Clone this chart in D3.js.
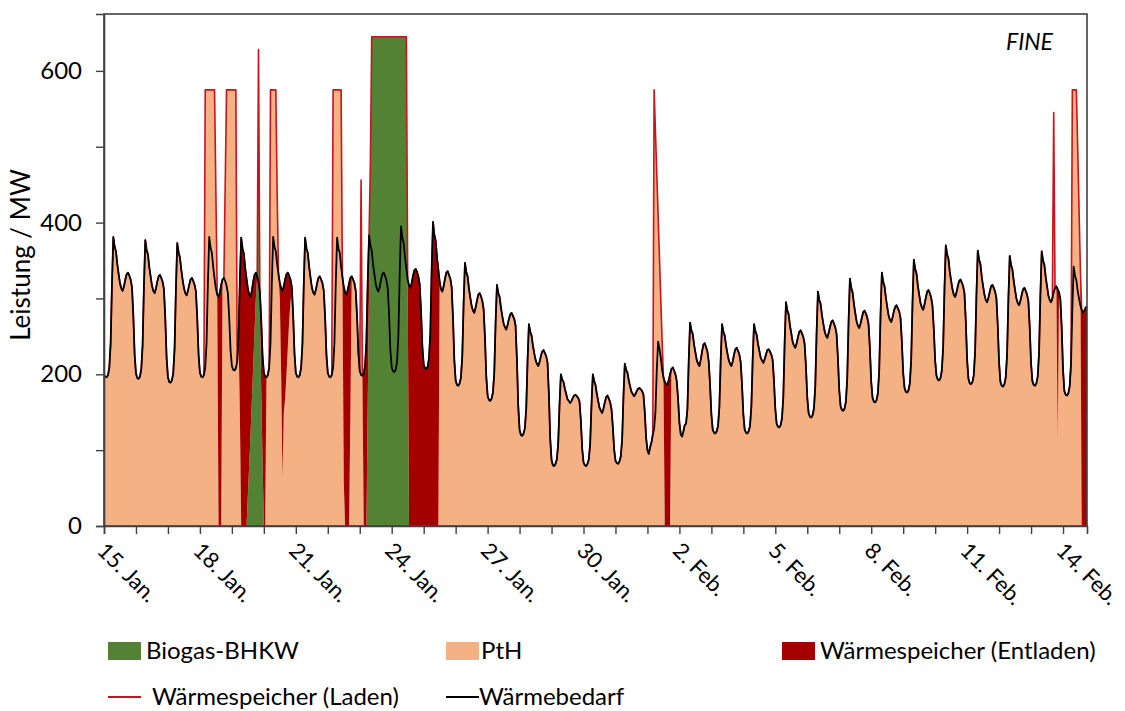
<!DOCTYPE html>
<html>
<head>
<meta charset="utf-8">
<script src="https://cdn.jsdelivr.net/npm/d3@7"></script>
<style>
  html, body { margin: 0; padding: 0; background: #ffffff; }
  svg { display: block; font-family: Lato, "Open Sans", sans-serif; }
</style>
</head>
<body>
<svg id="chart" width="1125" height="711"></svg>
<script>
// Wärmebedarf, stündlich ab 15. Jan. 00:00 (MW), eine Zeile pro Tag
const demand = [
  198,197,196,199,209,241,320,381,368,362,345,332,320,313,310,316,325,332,334,330,325,315,278,226,
  201,195,194,197,207,239,317,377,364,358,341,329,317,310,307,313,322,329,331,327,322,312,274,222,
  196,190,189,192,202,234,313,373,361,354,338,325,314,307,304,310,318,325,327,323,318,309,274,226,
  202,197,196,199,209,241,320,381,367,360,341,326,313,305,302,308,318,325,327,323,317,307,275,232,
  211,206,205,208,217,248,323,380,366,359,340,326,313,305,302,310,322,331,334,329,322,309,273,225,
  202,197,196,199,209,241,320,381,368,362,345,332,320,313,310,316,325,332,334,330,325,315,278,228,
  202,197,196,199,209,241,320,380,366,360,342,328,315,308,305,311,320,327,329,325,320,310,275,226,
  202,197,196,199,209,241,320,380,366,360,342,328,315,308,305,311,320,327,329,325,320,310,275,228,
  204,199,198,201,211,243,322,383,370,363,345,332,319,312,309,315,325,332,334,330,324,314,280,232,
  209,204,203,206,216,250,332,395,380,373,354,339,325,317,314,320,330,337,339,335,329,319,284,237,
  213,208,207,210,221,254,337,401,384,376,354,338,322,312,309,316,326,334,336,331,326,315,275,219,
  192,186,185,188,196,225,294,347,335,329,313,301,290,284,281,288,297,305,307,303,297,286,249,197,
  172,166,165,168,176,202,268,318,307,302,288,277,267,262,259,265,273,279,281,277,273,264,220,158,
  127,120,119,122,129,155,218,266,256,251,238,228,219,214,211,216,224,230,232,228,224,215,174,115,
   87, 80, 79, 82, 88,109,160,200,193,190,181,174,167,165,162,165,169,172,173,171,169,164,139,102,
   84, 80, 79, 82, 88,109,160,200,191,186,174,165,156,152,149,155,163,170,172,168,163,154,131,101,
   86, 83, 82, 85, 92,114,171,214,206,202,192,184,177,174,171,174,178,181,182,180,178,173,150,116,
  100, 95,104,110,120,128,150,205,243,234,222,206,196,190,187,186,192,200,207,209,205,200,191,167,
  136,121,118,125,133,135,154,218,268,258,253,239,229,219,214,211,219,230,239,241,236,230,217,186,
  147,127,123,122,125,132,157,219,266,256,251,238,228,219,214,211,217,226,233,235,231,226,216,186,
  147,127,123,122,125,132,157,219,266,257,252,240,231,222,218,215,220,226,232,233,230,226,219,191,
  154,135,131,130,133,142,170,241,295,284,279,264,254,243,238,235,241,249,256,258,254,249,240,210,
  169,149,144,143,146,155,184,255,309,298,293,278,267,257,251,248,254,262,269,271,267,262,253,221,
  179,158,153,152,155,164,195,269,326,314,308,293,281,270,264,261,267,275,282,284,280,275,266,234,
  190,169,164,163,166,175,205,278,334,322,316,301,289,278,272,269,275,283,289,291,287,283,274,243,
  202,182,177,176,179,188,219,294,351,339,333,317,305,294,288,285,292,301,309,311,307,301,290,259,
  218,198,193,192,195,205,235,312,370,358,352,335,323,312,305,302,308,316,323,325,321,316,307,270,
  219,194,188,187,190,199,230,305,363,351,345,328,316,305,298,295,301,309,316,318,314,309,300,264,
  215,190,185,184,187,196,226,300,356,344,338,323,311,300,294,291,297,305,312,314,310,305,296,262,
  214,191,186,185,188,197,228,304,362,350,344,328,316,304,298,295,300,308,314,316,312,308,299,261,
  206,178,173,172,175,184,214,286,342,330,324,310,300,291,285,281,284,288,289
];

// Biogas-BHKW: [Stunde, MW], übrige Stunden 0
const biogas = [
  [108,40],[109,80],[110,120],[111,165],[112,210],[113,255],[114,300],[115,329],[116,628],
  [117,300],[118,180],[119,90],
  [198,160],[199,320],[200,480],
  [201,645],[202,645],[203,645],[204,645],[205,645],[206,645],[207,645],[208,645],[209,645],
  [210,645],[211,645],[212,645],[213,645],[214,645],[215,645],[216,645],[217,645],[218,645],
  [219,645],[220,645],[221,645],[222,645],[223,645],[224,645],[225,645],[226,645],[227,645],
  [228,320]
];

// Wärmespeicher Entladen: [Stunde, MW]
const discharge = [
  [86,302],[87,308],[88,318],
  [102,173],[103,380],[104,366],[105,359],[106,340],[107,326],[108,273],[109,225],[110,182],
  [111,145],[112,112],[113,76],[114,34],
  [117,9],[118,93],[119,135],[120,202],[121,197],
  [132,20],[133,113],[134,248],[135,166],[136,157],[137,132],[138,99],[139,60],[140,30],[141,5],
  [180,255],[181,308],[182,305],[183,311],[184,320],[185,177],
  [195,201],[196,211],[197,243],[198,162],[199,63],
  [228,5],[229,317],[230,314],[231,320],[232,330],[233,337],[234,339],[235,335],[236,329],
  [237,319],[238,284],[239,237],[240,213],[241,208],[242,207],[243,210],[244,221],[245,254],
  [246,337],[247,401],[248,384],[249,376],[250,354],[251,338],
  [421,190],[422,187],[423,186],[424,192],[425,200],
  [716,199],
  [734,285],[735,281],[736,284],[737,288],[738,289]
];

// Wärmespeicher Laden: [Stunde, MW]
const charge = [
  [76,366],[77,334],[78,255],[79,194],[80,208],[81,215],[82,234],[83,249],[84,127],
  [91,127],[92,258],[93,268],[94,300],[95,343],[96,364],[97,369],[98,370],[99,367],
  [116,306],
  [125,334],[126,255],[127,194],[128,207],[129,213],[130,95],
  [172,366],[173,334],[174,255],[175,195],[176,209],[177,215],[178,233],
  [193,257],
  [200,110],[201,282],[202,300],[203,313],[204,326],[205,333],[206,336],[207,330],[208,320],
  [209,313],[210,311],[211,315],[212,321],[213,331],[214,365],[215,413],[216,436],[217,441],
  [218,442],[219,439],[220,429],[221,395],[222,313],[223,250],[224,265],[225,272],[226,291],
  [227,306],
  [413,447],[414,370],[415,260],[416,167],[417,121],[418,78],[419,39],
  [713,237],
  [727,289],[728,233],[729,245],[730,251],[731,190],[732,120],[733,49]
];

// Achsenbeschriftung
const dayLabels = ["15. Jan.","18. Jan.","21. Jan.","24. Jan.","27. Jan.","30. Jan.",
                   "2. Feb.","5. Feb.","8. Feb.","11. Feb.","14. Feb."];
const labelStepDays = 3;
const yTickValues = [0,100,200,300,400,500,600];
const yLabelValues = [0,200,400,600];

const colors = {
  bhkw: "#548235",
  pth: "#F4B183",
  ent: "#A50000",
  laden: "#C8141E",
  bedarf: "#000000",
  axis: "#404040"
};

const svg = d3.select("#chart");
const margin = { left: 104, right: 1087, top: 14, bottom: 526 };

const nHours = demand.length - 1;
const x = d3.scaleLinear().domain([0, nHours]).range([margin.left, margin.right]);
const y = d3.scaleLinear().domain([0, 675]).range([margin.bottom, margin.top]);

// Stündliche Tabelle aus den Einzelreihen
const bMap = new Map(biogas), dMap = new Map(discharge), cMap = new Map(charge);
const rows = demand.map((v, h) => {
  const b = bMap.get(h) || 0, e = dMap.get(h) || 0, c = cMap.get(h) || 0;
  return { h, demand: v, bhkw: b, ent: e, laden: v + c, pth: Math.max(0, v + c - b - e) };
});

const series = d3.stack().keys(["bhkw", "pth", "ent"])(rows);
const area = d3.area()
  .x(d => x(d.data.h))
  .y0(d => y(d[0]))
  .y1(d => y(d[1]));

const plot = svg.append("g");
plot.selectAll("path.layer")
  .data(series)
  .join("path")
  .attr("class", "layer")
  .attr("fill", s => colors[s.key])
  .attr("d", area);

plot.append("path")
  .datum(rows)
  .attr("fill", "none")
  .attr("stroke", colors.laden)
  .attr("stroke-width", 1.6)
  .attr("stroke-linejoin", "round")
  .attr("d", d3.line().x(d => x(d.h)).y(d => y(d.laden)));

plot.append("path")
  .datum(rows)
  .attr("fill", "none")
  .attr("stroke", colors.bedarf)
  .attr("stroke-width", 1.8)
  .attr("stroke-linejoin", "round")
  .attr("d", d3.line().x(d => x(d.h)).y(d => y(d.demand)));

// Rahmen
svg.append("rect")
  .attr("x", margin.left).attr("y", margin.top)
  .attr("width", margin.right - margin.left)
  .attr("height", margin.bottom - margin.top)
  .attr("fill", "none")
  .attr("stroke", colors.axis)
  .attr("stroke-width", 1.6);

// y-Achse
const yAxis = d3.axisLeft(y)
  .tickValues(yTickValues)
  .tickSize(8)
  .tickPadding(14)
  .tickFormat(v => yLabelValues.includes(v) ? String(v) : "");
const gy = svg.append("g").attr("transform", `translate(${margin.left},0)`).call(yAxis);
gy.select(".domain").attr("stroke", colors.axis).attr("stroke-width", 1.6);
gy.selectAll(".tick line").attr("stroke", colors.axis).attr("stroke-width", 1.4);
gy.selectAll(".tick text").attr("font-size", 24).attr("fill", "#000")
  .attr("font-family", "Lato, 'Open Sans', sans-serif");

// x-Achse: Tagesstriche
const dayTicks = d3.range(0, nHours + 1, 24);
const xAxis = d3.axisBottom(x)
  .tickValues(dayTicks)
  .tickSize(8)
  .tickFormat(() => "");
const gx = svg.append("g").attr("transform", `translate(0,${margin.bottom})`).call(xAxis);
gx.select(".domain").attr("stroke", colors.axis).attr("stroke-width", 1.6);
gx.selectAll(".tick line").attr("stroke", colors.axis).attr("stroke-width", 1.4);

// Datumsbeschriftung, um 45° gedreht
svg.append("g")
  .selectAll("text")
  .data(dayLabels)
  .join("text")
  .attr("transform", (d, i) => `translate(${x(i * labelStepDays * 24) - 8},${margin.bottom + 26}) rotate(45)`)
  .attr("font-size", 22)
  .attr("fill", "#000")
  .text(d => d);

// y-Achsentitel
svg.append("text")
  .attr("transform", `translate(30,255) rotate(-90)`)
  .attr("text-anchor", "middle")
  .attr("font-size", 26)
  .attr("fill", "#000")
  .text("Leistung / MW");

// Modellbezeichnung
svg.append("text")
  .attr("x", 1053).attr("y", 50)
  .attr("text-anchor", "end")
  .attr("font-size", 23)
  .attr("font-style", "italic")
  .attr("fill", "#000")
  .text("FINE");

// Legende
const legend = svg.append("g").attr("font-size", 24).attr("fill", "#000");
const legendItems = [
  { type: "rect", color: colors.bhkw, label: "Biogas-BHKW", x: 108, y: 651, tx: 146 },
  { type: "rect", color: colors.pth, label: "PtH", x: 446, y: 651, tx: 481 },
  { type: "rect", color: colors.ent, label: "Wärmespeicher (Entladen)", x: 782, y: 651, tx: 820 },
  { type: "line", color: colors.laden, label: "Wärmespeicher (Laden)", x: 108, y: 697, tx: 152 },
  { type: "line", color: colors.bedarf, label: "Wärmebedarf", x: 446, y: 697, tx: 479 }
];
legendItems.forEach(it => {
  if (it.type === "rect") {
    legend.append("rect").attr("x", it.x).attr("y", it.y - 9).attr("width", 33).attr("height", 18)
      .attr("fill", it.color);
  } else {
    legend.append("line").attr("x1", it.x).attr("x2", it.x + 33).attr("y1", it.y).attr("y2", it.y)
      .attr("stroke", it.color).attr("stroke-width", 2);
  }
  legend.append("text").attr("x", it.tx).attr("y", it.y).attr("dy", "0.35em").text(it.label);
});
</script>
</body>
</html>
